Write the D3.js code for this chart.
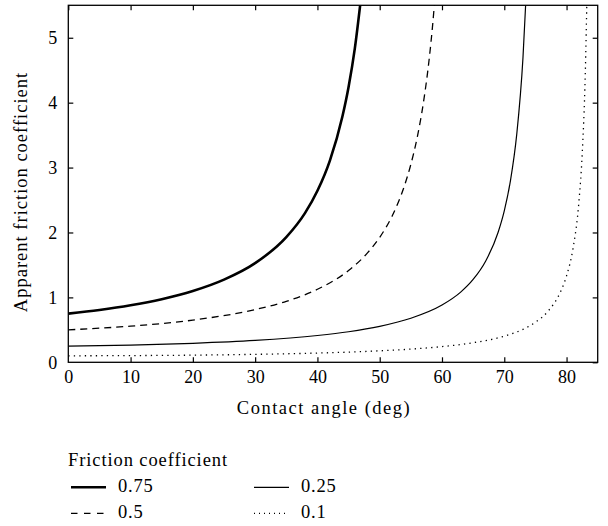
<!DOCTYPE html>
<html>
<head>
<meta charset="utf-8">
<script src="https://cdn.jsdelivr.net/npm/d3@7"></script>
<style>
  body { margin: 0; background: #fff; }
</style>
</head>
<body>
<div id="chart"></div>
<script>
// values: [contact angle (deg), apparent friction coefficient]
const mu075 = [[0, 0.75], [5, 0.806], [10, 0.878], [15, 0.972], [20, 1.098], [25, 1.273], [30, 1.527],
	[35, 1.928], [38, 2.298], [40, 2.642], [42, 3.108], [44, 3.782], [45, 4.242], [46, 4.832], [47, 5.618]];
const mu050 = [[0, 0.5], [10, 0.557], [20, 0.65], [30, 0.812], [35, 0.939], [40, 1.125], [45, 1.414],
	[48, 1.681], [50, 1.925], [52, 2.255], [54, 2.728], [55, 3.049], [56, 3.455], [57, 3.99],
	[58, 4.721], [58.5, 5.198], [59, 5.787]];
const mu025 = [[0, 0.25], [10, 0.266], [20, 0.293], [30, 0.337], [40, 0.413], [45, 0.471], [50, 0.554],
	[55, 0.678], [60, 0.882], [63, 1.081], [65, 1.276], [67, 1.557], [69, 2.0], [70, 2.334],
	[71, 2.803], [72, 3.511], [73, 4.69], [73.5, 5.64]];
const mu010 = [[0, 0.1], [10, 0.1034], [20, 0.11], [30, 0.1225], [40, 0.1425], [50, 0.1766], [55, 0.2034],
	[60, 0.2419], [65, 0.301], [70, 0.403], [73, 0.508], [75, 0.617], [77, 0.784], [79, 1.08],
	[80, 1.332], [81, 1.735], [82, 2.49], [82.5, 3.19], [83, 4.43], [83.3, 5.75]];

const seriesNames = ["0.75", "0.5", "0.25", "0.1"];
const xTicks = [0, 10, 20, 30, 40, 50, 60, 70, 80];
const yTicks = [0, 1, 2, 3, 4, 5];

const W = 608, H = 526;
const margin = { top: 5.3, right: 10.3, bottom: 163.7, left: 68.3 };
const FONT = "Liberation Serif";

const styles = {
	"0.75": { width: 2.6, dash: null, legendDash: null },
	"0.5":  { width: 1.3, dash: "7,5", legendDash: "6.5,6.5" },
	"0.25": { width: 1.2, dash: null, legendDash: null },
	"0.1":  { width: 1.3, dash: "1.3,4.2", legendDash: "1,4" }
};

const svg = d3.select("#chart").append("svg")
	.attr("width", W).attr("height", H)
	.attr("font-family", FONT);

const x = d3.scaleLinear().domain([0, 85]).range([margin.left, W - margin.right]);
const y = d3.scaleLinear().domain([0, 5.5]).range([H - margin.bottom, margin.top]);

svg.append("clipPath").attr("id", "plotclip")
	.append("rect")
	.attr("x", x(0)).attr("y", y(5.5))
	.attr("width", x(85) - x(0)).attr("height", y(0) - y(5.5));

const line = d3.line()
	.x(d => x(d[0]))
	.y(d => y(d[1]))
	.curve(d3.curveMonotoneX);

const series = [mu075, mu050, mu025, mu010];
const curves = svg.append("g").attr("clip-path", "url(#plotclip)");
series.forEach((s, i) => {
	const st = styles[seriesNames[i]];
	curves.append("path")
		.datum(s)
		.attr("d", line)
		.attr("fill", "none")
		.attr("stroke", "#000")
		.attr("stroke-width", st.width)
		.attr("stroke-dasharray", st.dash);
});

// axes, ticks point inward on all four sides
const tl = 5;
const fmt = d3.format("d");
const gx = svg.append("g").attr("transform", `translate(0,${y(0)})`)
	.call(d3.axisBottom(x).tickValues(xTicks).tickFormat(fmt).tickSizeInner(-tl).tickSizeOuter(0).tickPadding(8));
const gxTop = svg.append("g").attr("transform", `translate(0,${y(5.5)})`)
	.call(d3.axisTop(x).tickValues(xTicks).tickSizeInner(-tl).tickSizeOuter(0).tickFormat(""));
const gy = svg.append("g").attr("transform", `translate(${x(0)},0)`)
	.call(d3.axisLeft(y).tickValues(yTicks).tickFormat(fmt).tickSizeInner(-tl).tickSizeOuter(0).tickPadding(11));
const gyRight = svg.append("g").attr("transform", `translate(${x(85)},0)`)
	.call(d3.axisRight(y).tickValues(yTicks).tickSizeInner(-tl).tickSizeOuter(0).tickFormat(""));

[gx, gxTop, gy, gyRight].forEach(g => {
	g.attr("font-family", FONT).attr("font-size", 18);
	g.select(".domain").remove();
	g.selectAll(".tick line").attr("stroke", "#000").attr("stroke-width", 1.2);
	g.selectAll("text").attr("font-family", FONT).attr("font-size", 18).attr("fill", "#000");
});
gy.selectAll(".tick").filter(d => d === 0).select("line").remove();
gx.selectAll(".tick").filter(d => d === 0).select("line").remove();

svg.append("rect")
	.attr("x", x(0)).attr("y", y(5.5))
	.attr("width", x(85) - x(0)).attr("height", y(0) - y(5.5))
	.attr("fill", "none").attr("stroke", "#000").attr("stroke-width", 1.3);

// axis titles
svg.append("text")
	.attr("x", 324).attr("y", 414)
	.attr("text-anchor", "middle")
	.attr("font-family", FONT).attr("font-size", 18.5)
	.attr("letter-spacing", 1.5)
	.text("Contact angle (deg)");

svg.append("text")
	.attr("transform", "translate(27,192) rotate(-90)")
	.attr("text-anchor", "middle")
	.attr("font-family", FONT).attr("font-size", 18.5)
	.attr("letter-spacing", 1.0)
	.text("Apparent friction coefficient");

// legend
const legend = svg.append("g").attr("font-family", FONT);
legend.append("text")
	.attr("x", 68).attr("y", 466)
	.attr("font-size", 18.5)
	.attr("letter-spacing", 0.9)
	.text("Friction coefficient");

const legendPos = [[71, 487.3], [71, 513.3], [254, 487.3], [254, 513.3]];
seriesNames.forEach((name, i) => {
	const [lx, ly] = legendPos[i];
	const st = styles[name];
	legend.append("line")
		.attr("x1", lx).attr("x2", lx + 35)
		.attr("y1", ly).attr("y2", ly)
		.attr("stroke", "#000")
		.attr("stroke-width", st.width)
		.attr("stroke-dasharray", st.legendDash);
	legend.append("text")
		.attr("x", lx + 47).attr("y", ly + 5)
		.attr("font-size", 18.5)
		.attr("letter-spacing", 0.8)
		.text(name);
});
</script>
</body>
</html>
